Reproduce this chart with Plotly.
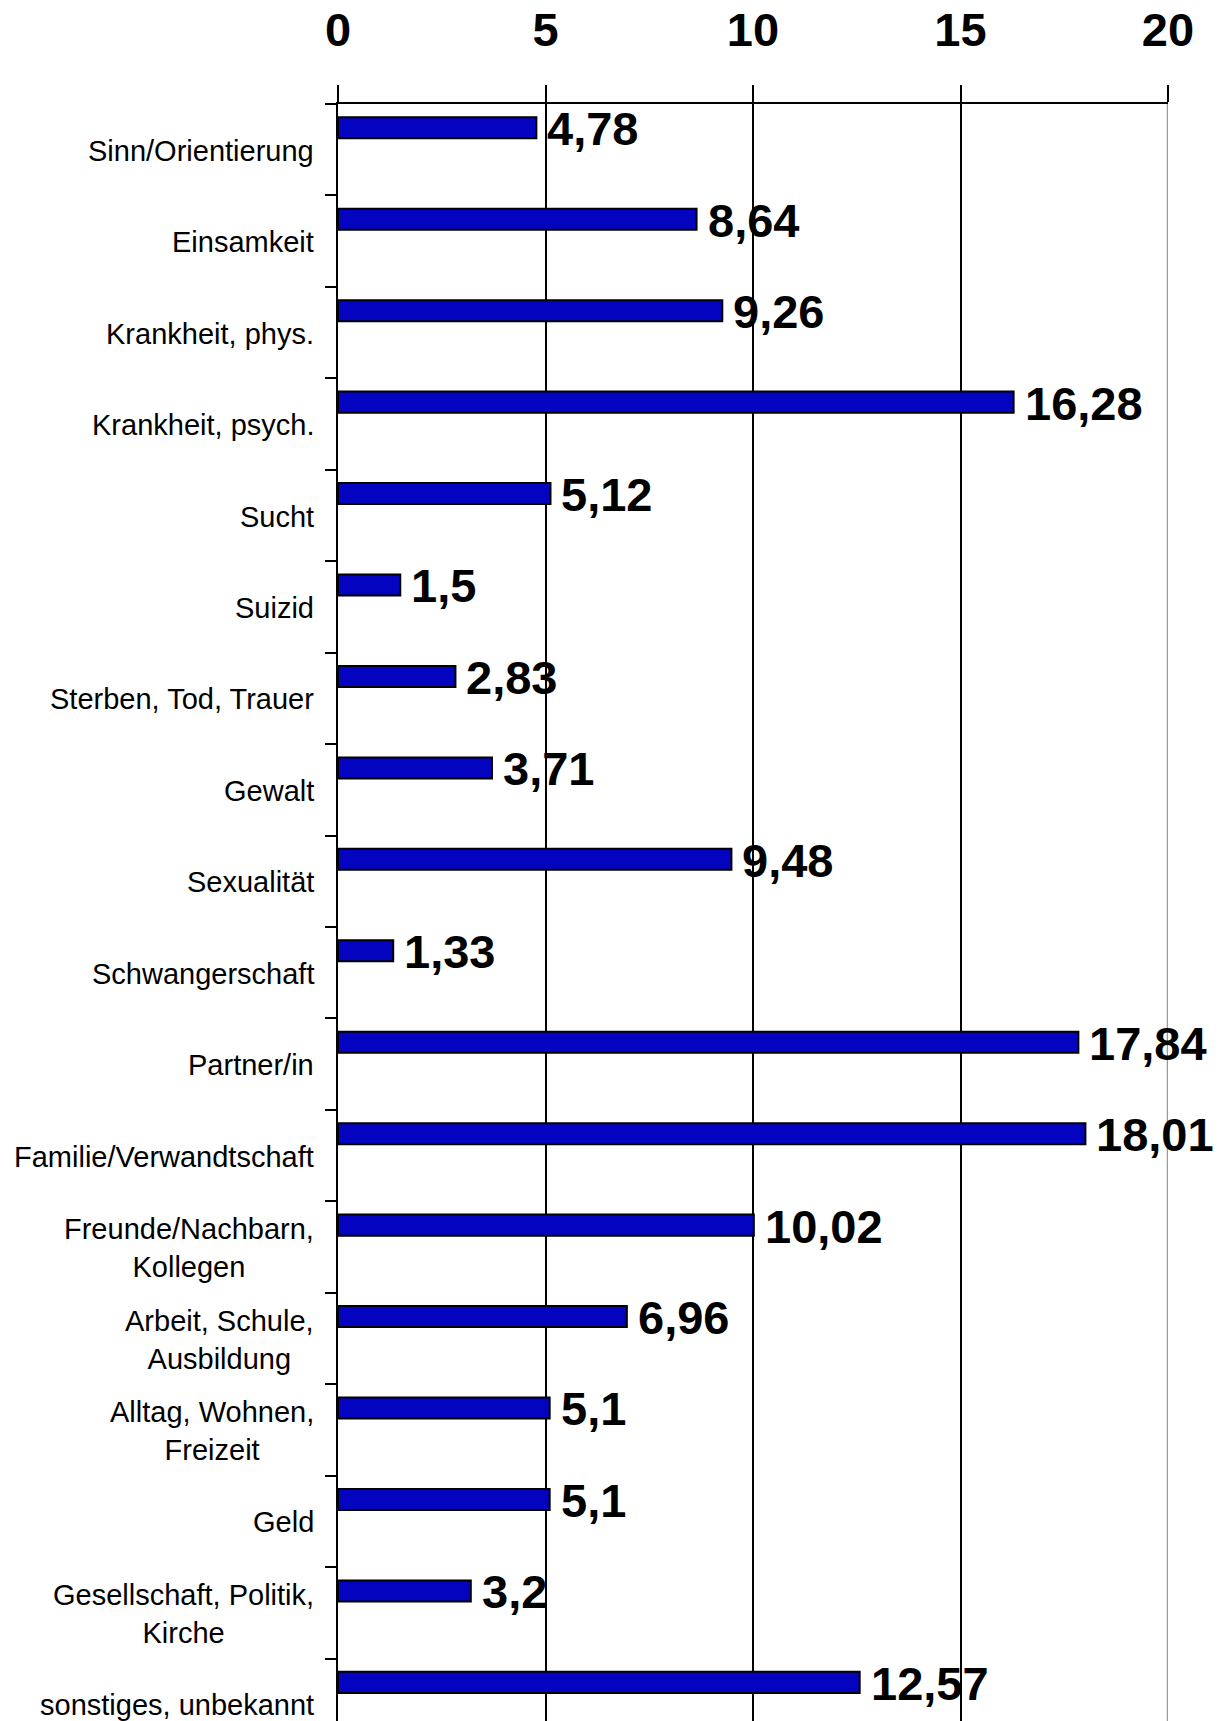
import plotly.graph_objects as go

categories = [
    "Sinn/Orientierung", "Einsamkeit", "Krankheit, phys.", "Krankheit, psych.",
    "Sucht", "Suizid", "Sterben, Tod, Trauer", "Gewalt", "Sexualität",
    "Schwangerschaft", "Partner/in", "Familie/Verwandtschaft",
    "Freunde/Nachbarn, Kollegen", "Arbeit, Schule, Ausbildung",
    "Alltag, Wohnen, Freizeit", "Geld", "Gesellschaft, Politik, Kirche",
    "sonstiges, unbekannt",
]
display_labels = [
    "Sinn/Orientierung", "Einsamkeit", "Krankheit, phys.", "Krankheit, psych.",
    "Sucht", "Suizid", "Sterben, Tod, Trauer", "Gewalt", "Sexualität",
    "Schwangerschaft", "Partner/in", "Familie/Verwandtschaft",
    "Freunde/Nachbarn,<br>Kollegen", "Arbeit, Schule,<br>Ausbildung",
    "Alltag, Wohnen,<br>Freizeit", "Geld", "Gesellschaft, Politik,<br>Kirche",
    "sonstiges, unbekannt",
]
values = [4.78, 8.64, 9.26, 16.28, 5.12, 1.5, 2.83, 3.71, 9.48,
          1.33, 17.84, 18.01, 10.02, 6.96, 5.1, 5.1, 3.2, 12.57]
value_labels = [str(v).replace(".", ",") for v in values]
x_ticks = [0, 5, 10, 15, 20]

FONT = "Arial, Liberation Sans, Helvetica, sans-serif"

fig = go.Figure()
fig.add_trace(go.Bar(
    orientation="h",
    x=values,
    y=categories,
    width=0.23,
    offset=-0.355,
    marker=dict(color="#0404C0", line=dict(color="#000000", width=2)),
    hoverinfo="x+y",
))

annotations = []
for cat, lab in zip(categories, display_labels):
    annotations.append(dict(
        x=0, y=cat, xref="x", yref="y", text=lab, showarrow=False,
        xanchor="right", yanchor="middle", align="center", xshift=-22, yshift=-1,
        font=dict(family=FONT, size=29, color="#000000"),
    ))
for cat, v, vl in zip(categories, values, value_labels):
    annotations.append(dict(
        x=v, y=cat, xref="x", yref="y", text="<b>" + vl + "</b>", showarrow=False,
        xanchor="left", yanchor="middle", xshift=9, yshift=21,
        font=dict(family=FONT, size=47, color="#000000"),
    ))

fig.update_layout(
    width=1223, height=1721,
    margin=dict(l=330, r=63, t=96, b=0, pad=0, autoexpand=False),
    paper_bgcolor="white", plot_bgcolor="white",
    showlegend=False,
    annotations=annotations,
    shapes=[dict(type="line", xref="x", yref="paper", x0=20, x1=20, y0=0, y1=1,
                 line=dict(color="#999999", width=2.5), layer="above")],
    xaxis=dict(
        side="top", range=[0, 20], tickvals=x_ticks,
        ticktext=["<b>%d</b>" % t for t in x_ticks],
        tickfont=dict(family=FONT, size=47, color="#000000"),
        ticks="outside", ticklen=17, tickwidth=2, tickcolor="#000000",
        showline=True, linewidth=2, linecolor="#000000",
        showgrid=True, gridcolor="#000000", gridwidth=1.5,
        zeroline=False, ticklabelstandoff=20, automargin=False,
    ),
    yaxis=dict(
        type="category", categoryorder="array", categoryarray=categories,
        range=[17.27, -0.5], automargin=False,
        showticklabels=False, ticks="outside", tickson="boundaries",
        ticklen=11, tickwidth=2, tickcolor="#000000",
        showline=True, linewidth=2, linecolor="#000000",
        showgrid=False, zeroline=False,
    ),
)

fig.write_html("out.html")
